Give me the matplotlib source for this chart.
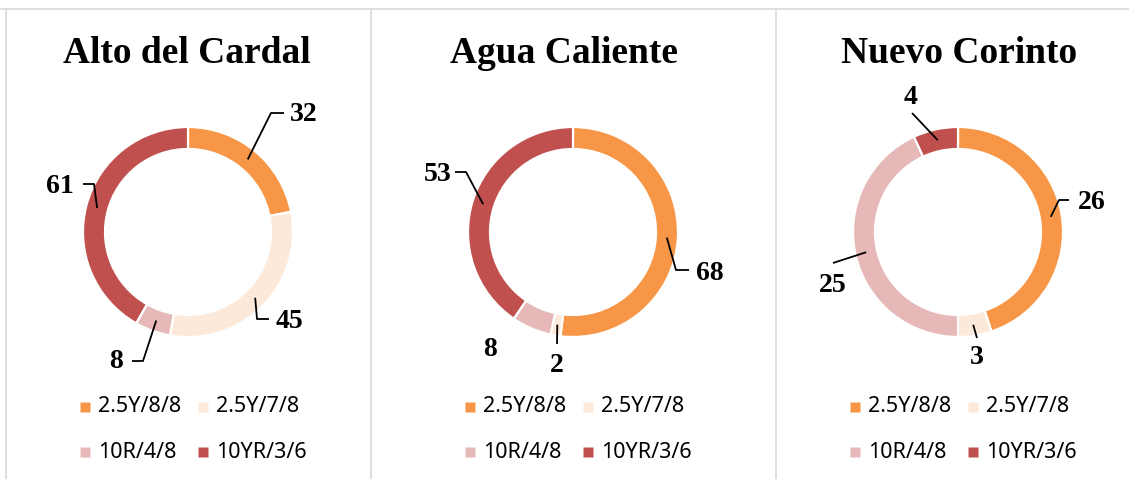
import matplotlib.pyplot as plt
import numpy as np

W, H = 1129, 479

sites = ["Alto del Cardal", "Agua Caliente", "Nuevo Corinto"]
munsell = ["2.5Y/8/8", "2.5Y/7/8", "10R/4/8", "10YR/3/6"]
colors = ["#F79646", "#FDE9D9", "#E6B9B8", "#C0504D"]

alto_cardal = [32, 45, 8, 61]
agua_caliente = [68, 2, 8, 53]
nuevo_corinto = [26, 3, 25, 4]
counts = [alto_cardal, agua_caliente, nuevo_corinto]

# layout in pixels, y measured from the top
centers_x = [188, 573, 958]
center_y = 232
title_x = [187, 564, 959]
r_out, ring = 105, 22

# label text position and leader line points (after the anchor on the ring)
label_pos = [
    [((304, 114), [(271, 113), (284, 113)]),
     ((290, 321), [(257, 319), (269, 319)]),
     ((116, 362), [(143, 361), (132, 361)]),
     ((60, 186), [(94, 184), (83, 184)])],
    [((710, 273), [(676, 270), (689, 270)]),
     ((557, 366), [(557, 344)]),
     ((490, 349), None),
     ((438, 174), [(466, 172), (455, 172)])],
    [((1092, 202), [(1059, 200), (1069, 200)]),
     ((977, 357), [(977, 338)]),
     ((833, 285), [(833, 263)]),
     ((911, 97), [(912, 113)])],
]


def up(y):
    return H - y


fig = plt.figure(figsize=(W / 100, H / 100), dpi=100)
ax = fig.add_axes([0, 0, 1, 1])

grey = "#D9D9D9"
ax.plot([0, W], [up(9), up(9)], color=grey, lw=1.2)
for xv in [6, 370.5, 776]:
    ax.plot([xv, xv], [up(9), 0], color=grey, lw=1.2)

for i, vals in enumerate(counts):
    cx, cy = centers_x[i], up(center_y)
    ax.pie(vals, colors=colors, startangle=90, counterclock=False,
           center=(cx, cy), radius=r_out,
           wedgeprops=dict(width=ring, edgecolor="white", linewidth=1.6))

    ax.text(title_x[i], up(63), sites[i], ha="center", va="baseline",
            fontsize=27, fontweight="bold", family="Liberation Serif")

    total = sum(vals)
    cum = 0
    for j, v in enumerate(vals):
        a = np.deg2rad(360 * (cum + v / 2) / total)
        cum += v
        (tx, ty), path = label_pos[i][j]
        if path:
            ra = r_out - ring / 2
            xs = [cx + ra * np.sin(a)] + [p[0] for p in path]
            ys = [cy + ra * np.cos(a)] + [up(p[1]) for p in path]
            ax.plot(xs, ys, color="black", lw=1.3, solid_capstyle="butt")
        ax.text(tx, up(ty), str(v), ha="center", va="center",
                fontsize=20, fontweight="bold", family="Liberation Serif")

    # legend, two by two
    for j, name in enumerate(munsell):
        col, row = j % 2, j // 2
        mx = cx - 103 + col * 118
        my = up(407 + row * 45)
        ax.plot(mx, my, marker="s", ms=6.5, color=colors[j], mec="none")
        ax.text(mx + 13, my, name, ha="left", va="center",
                fontsize=15.5, family="Noto Sans")

ax.set_xlim(0, W)
ax.set_ylim(0, H)
ax.set_aspect("auto")
ax.axis("off")

fig.savefig("out.png", dpi=100, facecolor="white")
